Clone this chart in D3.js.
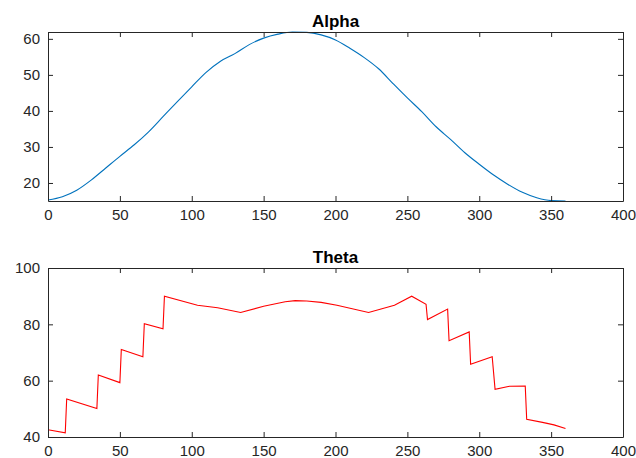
<!DOCTYPE html>
<html>
<head>
<meta charset="utf-8">
<script src="https://cdn.jsdelivr.net/npm/d3@7"></script>
<style>
  body { margin: 0; background: #fff; }
  text { font-family: "Liberation Sans", Arial, Helvetica, sans-serif; }
</style>
</head>
<body>
<div class="chart"></div>
<script>
// Alpha: sampled every 10 deg
const alphaDeg = [0, 10, 20, 30, 40, 50, 60, 70, 80, 90, 100, 110, 120, 130, 140, 150, 160, 170, 180,
                  190, 200, 210, 220, 230, 240, 250, 260, 270, 280, 290, 300, 310, 320, 330, 340, 350, 360];
const alphaVal = [15.3, 16.2, 18.0, 20.8, 24.1, 27.4, 30.6, 34.2, 38.4, 42.6, 46.7, 50.7, 53.8, 55.9, 58.4, 60.2, 61.3, 61.9, 61.8,
                  61.1, 59.7, 57.4, 54.8, 51.7, 47.6, 43.6, 39.8, 35.6, 32.1, 28.4, 25.2, 22.2, 19.6, 17.4, 15.9, 15.1, 15.0];

// Theta
const thetaDeg = [0, 12, 13, 34, 35, 50, 51, 66, 67, 80, 81, 104, 118, 134, 150, 165, 172, 180, 190, 201,
                  223, 241, 253, 263, 264, 278, 279, 293, 294, 309, 311, 321, 332, 333, 344, 352, 360];
const thetaVal = [42.6, 41.5, 53.5, 50.1, 62.0, 59.3, 71.1, 68.5, 80.2, 78.4, 90.0, 86.8, 85.9, 84.2, 86.4, 88.0, 88.4, 88.3, 87.8, 86.8,
                  84.2, 86.8, 90.0, 87.1, 81.7, 85.4, 74.2, 77.3, 65.8, 68.5, 56.9, 58.0, 58.1, 46.3, 45.2, 44.3, 43.0];

const xTicks = [0, 50, 100, 150, 200, 250, 300, 350, 400];
const alphaTicks = [20, 30, 40, 50, 60];
const thetaTicks = [40, 60, 80, 100];

const width = 636, height = 458;
const svg = d3.select(".chart").append("svg")
    .attr("width", width)
    .attr("height", height);

function panel(opts) {
    const left = 48, right = 623;
    const x = d3.scaleLinear().domain([0, 400]).range([left, right]);
    const y = d3.scaleLinear().domain(opts.yDomain).range([opts.bottom, opts.top]);
    const data = opts.xs.map((d, i) => ({x: d, y: opts.ys[i]}));

    const g = svg.append("g");

    g.append("path")
        .datum(data)
        .attr("fill", "none")
        .attr("stroke", opts.color)
        .attr("stroke-width", 1.1)
        .attr("d", d3.line().curve(opts.curve).x(d => x(d.x)).y(d => y(d.y)));

    const style = sel => {
        sel.selectAll("path").attr("stroke", "#262626");
        sel.selectAll("line").attr("stroke", "#262626");
        sel.selectAll("text").attr("fill", "#262626").style("font-size", "15px");
    };

    g.append("g")
        .attr("transform", `translate(0,${opts.bottom})`)
        .call(d3.axisBottom(x).tickValues(xTicks).tickSizeInner(-5).tickSizeOuter(0).tickPadding(8))
        .call(style);
    g.append("g")
        .attr("transform", `translate(0,${opts.top})`)
        .call(d3.axisTop(x).tickValues(xTicks).tickSizeInner(-5).tickSizeOuter(0).tickFormat(""))
        .call(style);
    g.append("g")
        .attr("transform", `translate(${left},0)`)
        .call(d3.axisLeft(y).tickValues(opts.yTicks).tickSizeInner(-5).tickSizeOuter(0).tickPadding(8))
        .call(style);
    g.append("g")
        .attr("transform", `translate(${right},0)`)
        .call(d3.axisRight(y).tickValues(opts.yTicks).tickSizeInner(-5).tickSizeOuter(0).tickFormat(""))
        .call(style);

    g.append("text")
        .attr("x", (left + right) / 2)
        .attr("y", opts.top - 5.5)
        .attr("text-anchor", "middle")
        .attr("fill", "#000")
        .style("font-size", "17px")
        .style("font-weight", "bold")
        .text(opts.title);
}

panel({title: "Alpha", xs: alphaDeg, ys: alphaVal, yDomain: d3.extent(alphaVal),
       yTicks: alphaTicks, top: 32, bottom: 201, color: "#0072BD", curve: d3.curveMonotoneX});
panel({title: "Theta", xs: thetaDeg, ys: thetaVal, yDomain: [40, 100],
       yTicks: thetaTicks, top: 268, bottom: 437, color: "#FF0000", curve: d3.curveLinear});
</script>
</body>
</html>
